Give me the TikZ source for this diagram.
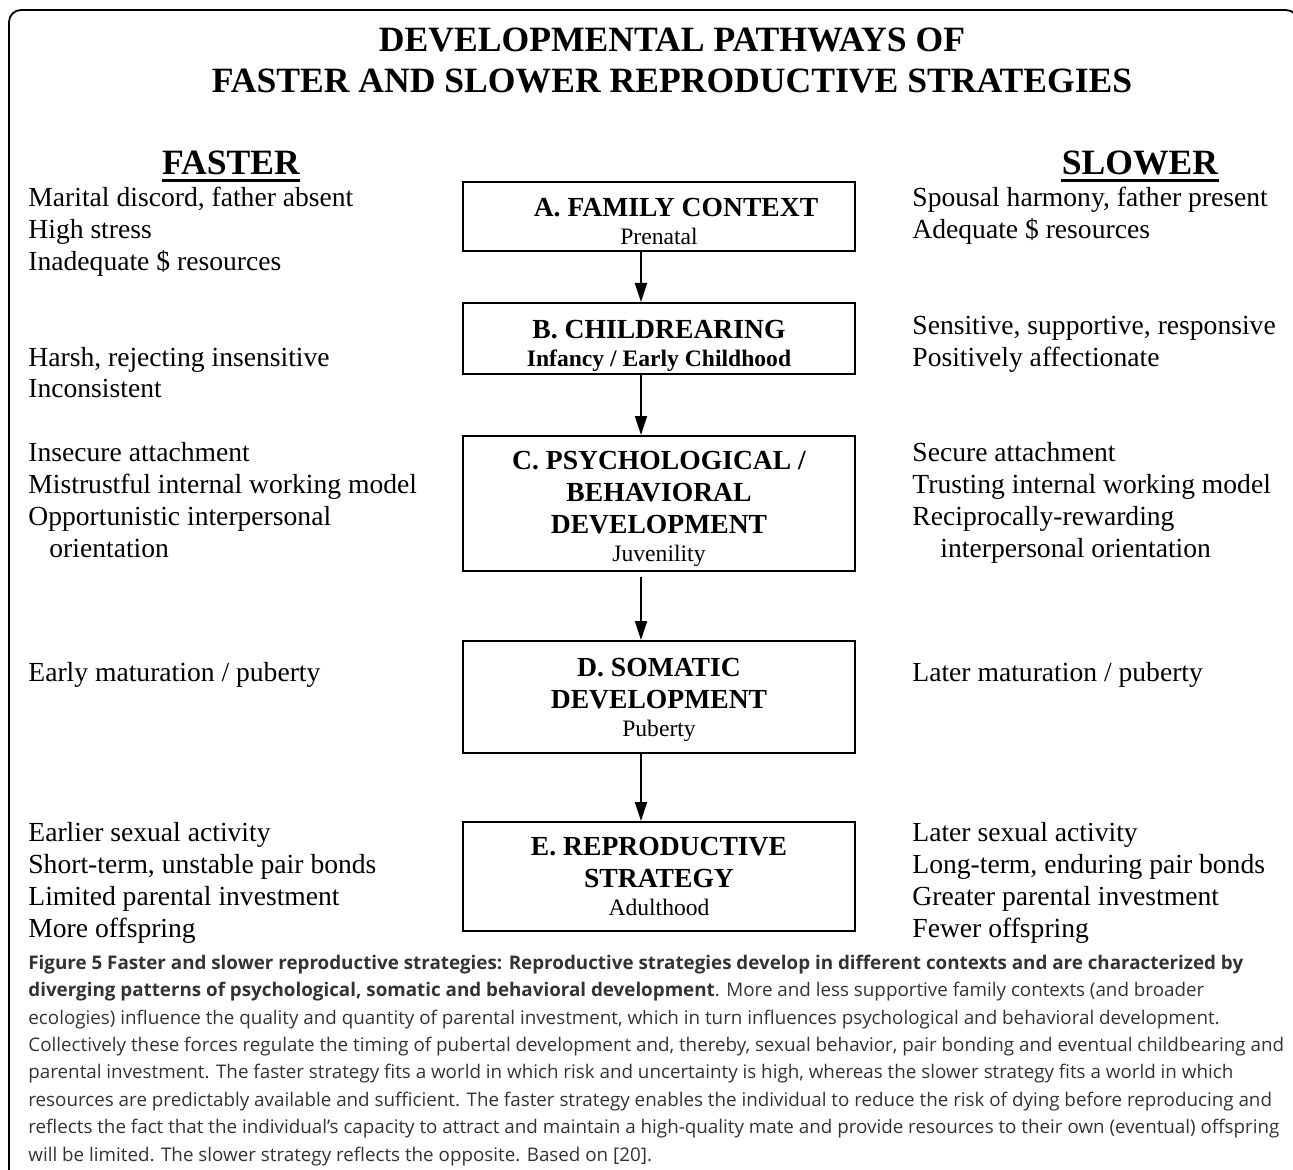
\documentclass[tikz,border=0pt]{standalone}
\usepackage{fontspec}
\setmainfont{Liberation Serif}
\newfontfamily\capfont{Open Sans}
\usetikzlibrary{arrows.meta}

\tikzset{
  stage/.style={draw, line width=1pt, minimum width=196pt, inner sep=0pt,
    align=center, font=\fontsize{13.8}{16}\selectfont\bfseries},
  side/.style={anchor=base west, inner sep=0pt, align=left,
    font=\fontsize{13.8}{16}\selectfont},
  head/.style={anchor=base, inner sep=0pt, align=center,
    font=\fontsize{17.8}{20.5}\selectfont\bfseries},
  flow/.style={-{Triangle[length=9.5pt,width=6pt]}, line width=1pt},
}
\newcommand{\period}[1]{{\mdseries\fontsize{11.8}{14}\selectfont #1}}

\begin{document}
\begin{tikzpicture}[x=0.5pt,y=-0.5pt]
    \useasboundingbox (0,0) rectangle (1293,1170);
    \draw[line width=0.9pt, rounded corners=6pt] (9,1180) -- (9,10) -- (1298,10) -- (1298,60);

    % title and the two columns (base = last line)
    \node[head] (title) at (672,93) {DEVELOPMENTAL PATHWAYS OF\\FASTER AND SLOWER REPRODUCTIVE STRATEGIES};
    \node[head] (faster) at (231,175) {FASTER};
    \node[head] (slower) at (1140,175) {SLOWER};
    \draw[line width=1.5pt] ([yshift=-2.6pt]faster.base west) -- ([yshift=-2.6pt]faster.base east);
    \draw[line width=1.5pt] ([yshift=-2.6pt]slower.base west) -- ([yshift=-2.6pt]slower.base east);

    % stages
    \node[stage, minimum height=34.5pt, text height=28pt] (famA) at (659,216.5) {\hspace*{17pt}A. FAMILY CONTEXT\\[-2pt]\period{Prenatal}};
    \node[stage, minimum height=35.5pt, text height=31pt] (rearB) at (659,338.5) {B. CHILDREARING\\[-2pt]{\fontsize{11.8}{14}\selectfont Infancy / Early Childhood}};
    \node[stage, minimum height=67.5pt, text height=60.5pt] (psychC) at (659,503.5) {C. PSYCHOLOGICAL /\\BEHAVIORAL\\DEVELOPMENT\\[-2pt]\period{Juvenility}};
    \node[stage, minimum height=56pt, text height=42pt] (somaD) at (659,697) {D. SOMATIC\\DEVELOPMENT\\[-2pt]\period{Puberty}};
    \node[stage, minimum height=54.5pt] (reproE) at (659,876.5) {E. REPRODUCTIVE\\STRATEGY\\[-2pt]\period{Adulthood}};

    \coordinate (spine) at (641,0);
    \draw[flow] (famA.south -| spine) -- (rearB.north -| spine);
    \draw[flow] (rearB.south -| spine) -- (psychC.north -| spine);
    \draw[flow, shorten <=2.5pt] (psychC.south -| spine) -- (somaD.north -| spine);
    \draw[flow] (somaD.south -| spine) -- (reproE.north -| spine);

    % faster side
    \node[side] (fastA) at (28,271) {Marital discord, father absent\\High stress\\Inadequate \$ resources};
    \node[side] (fastB) at (28,398) {Harsh, rejecting insensitive\\Inconsistent};
    \node[side] (fastC) at (28,557) {Insecure attachment\\Mistrustful internal working model\\Opportunistic interpersonal\\\hspace*{10.5pt}orientation};
    \node[side] (fastD) at (28,681) {Early maturation / puberty};
    \node[side] (fastE) at (28,937) {Earlier sexual activity\\Short-term, unstable pair bonds\\Limited parental investment\\More offspring};

    % slower side
    \node[side] (slowA) at (912,239) {Spousal harmony, father present\\Adequate \$ resources};
    \node[side] (slowB) at (912,366) {Sensitive, supportive, responsive\\Positively affectionate};
    \node[side] (slowC) at (912,557) {Secure attachment\\Trusting internal working model\\Reciprocally-rewarding\\\hspace*{14pt}interpersonal orientation};
    \node[side] (slowD) at (912,681) {Later maturation / puberty};
    \node[side] (slowE) at (912,937) {Later sexual activity\\Long-term, enduring pair bonds\\Greater parental investment\\Fewer offspring};

    % caption
    \node[anchor=base west, inner sep=0pt, align=left, text=black!80,
      font=\capfont\fontsize{9.4}{13.7}\selectfont] (caption) at (28,1161) {%
      \textbf{Figure 5 Faster and slower reproductive strategies: Reproductive strategies develop in different contexts and are characterized by}\\
      \textbf{diverging patterns of psychological, somatic and behavioral development}. More and less supportive family contexts (and broader\\
      ecologies) influence the quality and quantity of parental investment, which in turn influences psychological and behavioral development.\\
      Collectively these forces regulate the timing of pubertal development and, thereby, sexual behavior, pair bonding and eventual childbearing and\\
      parental investment. The faster strategy fits a world in which risk and uncertainty is high, whereas the slower strategy fits a world in which\\
      resources are predictably available and sufficient. The faster strategy enables the individual to reduce the risk of dying before reproducing and\\
      reflects the fact that the individual’s capacity to attract and maintain a high-quality mate and provide resources to their own (eventual) offspring\\
      will be limited. The slower strategy reflects the opposite. Based on [20].};
\end{tikzpicture}
\end{document}
